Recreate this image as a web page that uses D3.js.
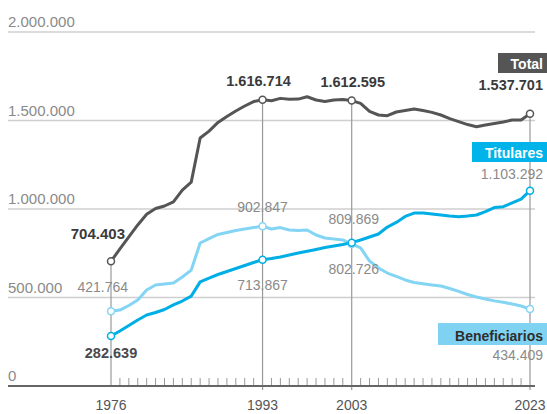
<!DOCTYPE html>
<html>
<head>
<meta charset="utf-8">
<script src="https://cdn.jsdelivr.net/npm/d3@7"></script>
<style>
  html, body { margin: 0; padding: 0; background: #fff; }
  svg { display: block; }
  text { font-family: "Liberation Sans", Arial, sans-serif; }
</style>
</head>
<body>
<svg id="chart" width="547" height="414"></svg>
<script>
const years = [1976,1977,1978,1979,1980,1981,1982,1983,1984,1985,1986,1987,1988,1989,1990,1991,1992,1993,
  1994,1995,1996,1997,1998,1999,2000,2001,2002,2003,2004,2005,2006,2007,2008,2009,2010,2011,2012,2013,
  2014,2015,2016,2017,2018,2019,2020,2021,2022,2023];

const total = [704403,775000,842000,910000,970000,1003000,1017000,1040000,1107000,1152000,1401000,1440000,
  1489000,1523000,1554000,1582000,1607000,1616714,
  1612000,1625000,1620000,1621000,1634000,1616000,1607000,1616000,1619000,1612595,
  1597000,1551000,1531000,1527000,1548000,1556000,1565000,1556000,1546000,1531000,
  1511000,1494000,1477000,1465000,1475000,1483000,1492000,1503000,1503000,1537701];

const titulares = [282639,311000,342000,373000,401000,415000,432000,458000,480000,508000,588000,610000,
  630000,647000,664000,681000,698000,713867,
  720000,729000,740000,751000,761000,771000,782000,791000,799000,809869,
  825000,842000,859000,898000,924000,958000,977000,977000,972000,966000,
  960000,956000,960000,966000,985000,1008000,1013000,1034000,1056000,1103292];

const beneficiarios = [421764,429000,455000,486000,542000,571000,576000,582000,616000,655000,808000,833000,
  856000,867000,879000,887000,895000,902847,
  887000,895000,881000,879000,881000,853000,836000,831000,825000,802726,
  780000,706000,667000,638000,619000,599000,585000,578000,571000,565000,
  551000,535000,517000,503000,492000,481000,473000,463000,452000,434409];

const yTicks = [0, 500000, 1000000, 1500000, 2000000];
const xLabels = [1976, 1993, 2003, 2023];
const markYears = [1976, 1993, 2003, 2023];

const fmt = v => d3.format(",")(v).replace(/,/g, ".");

const svg = d3.select("#chart");
const x = d3.scaleLinear().domain([1976, 2023]).range([111, 530]);
const y = d3.scaleLinear().domain([0, 2000000]).range([386, 32]);
const gridLeft = 8, gridRight = 535;

const colTotal = "#555555", colTit = "#00aee6", colBen = "#84d4f4";

// horizontal gridlines
svg.append("g").selectAll("line").data(yTicks.filter(d => d > 0)).join("line")
  .attr("x1", gridLeft).attr("x2", gridRight)
  .attr("y1", d => y(d)).attr("y2", d => y(d))
  .attr("stroke", "#cfcfcf").attr("stroke-width", 1.5);

// y tick labels
svg.append("g").selectAll("text").data(yTicks).join("text")
  .attr("x", gridLeft).attr("y", d => y(d) - 5)
  .attr("font-size", 15).attr("fill", "#8a8a8a")
  .text(d => fmt(d));

// year ticks
const tickYears = years.filter(yr => !markYears.includes(yr));
svg.append("g").selectAll("line").data(tickYears).join("line")
  .attr("x1", d => x(d)).attr("x2", d => x(d))
  .attr("y1", y(0) - 8).attr("y2", y(0))
  .attr("stroke", "#999").attr("stroke-width", 1);

// vertical marker lines
const idx = yr => years.indexOf(yr);
svg.append("g").selectAll("line").data(markYears).join("line")
  .attr("x1", d => x(d)).attr("x2", d => x(d))
  .attr("y1", d => y(total[idx(d)])).attr("y2", d => d === 1976 ? y(0) : y(0) + 4)
  .attr("stroke", "#999").attr("stroke-width", 1.2);

// x axis baseline
svg.append("line").attr("x1", gridLeft).attr("x2", gridRight)
  .attr("y1", y(0)).attr("y2", y(0)).attr("stroke", "#666").attr("stroke-width", 2);

// x labels
svg.append("g").selectAll("text").data(xLabels).join("text")
  .attr("x", d => x(d)).attr("y", 410).attr("text-anchor", "middle")
  .attr("font-size", 14).attr("fill", "#555").text(d => d);

// lines
const line = d3.line().x((d, i) => x(years[i])).y(d => y(d)).curve(d3.curveLinear);
const series = [
  {name: "Beneficiarios", values: beneficiarios, color: colBen},
  {name: "Titulares", values: titulares, color: colTit},
  {name: "Total", values: total, color: colTotal}
];
svg.append("g").selectAll("path").data(series).join("path")
  .attr("d", d => line(d.values)).attr("fill", "none")
  .attr("stroke", d => d.color).attr("stroke-width", 3)
  .attr("stroke-linejoin", "round").attr("stroke-linecap", "round");

// markers
series.forEach(s => {
  svg.append("g").selectAll("circle").data(markYears).join("circle")
    .attr("cx", d => x(d)).attr("cy", d => y(s.values[idx(d)])).attr("r", 3.5)
    .attr("fill", "#fff").attr("stroke", s.color).attr("stroke-width", 1.5);
});

// value labels
function label(xp, yp, txt, opts) {
  svg.append("text").attr("x", xp).attr("y", yp)
    .attr("text-anchor", opts.anchor || "middle")
    .attr("font-size", opts.size || 14)
    .attr("font-weight", opts.bold ? "bold" : "normal")
    .attr("fill", opts.color || "#8a8a8a")
    .text(txt);
}
const dark = "#3a3a3a";
// Total
label(x(1976) + 14, y(total[idx(1976)]) - 22, fmt(total[idx(1976)]), {anchor: "end", bold: true, color: dark, size: 15});
label(x(1993) - 4, y(total[idx(1993)]) - 14, fmt(total[idx(1993)]), {bold: true, color: dark, size: 14.5});
label(x(2003) + 1, y(total[idx(2003)]) - 14, fmt(total[idx(2003)]), {bold: true, color: dark, size: 14.5});
label(543, y(total[idx(2023)]) - 24, fmt(total[idx(2023)]), {anchor: "end", bold: true, color: dark, size: 14.5});
// Beneficiarios
label(x(1976) + 17, y(beneficiarios[idx(1976)]) - 19, fmt(beneficiarios[idx(1976)]), {anchor: "end", size: 14});
label(x(1993), y(beneficiarios[idx(1993)]) - 14, fmt(beneficiarios[idx(1993)]), {size: 14});
label(x(2003) + 2, y(beneficiarios[idx(2003)]) + 30, fmt(beneficiarios[idx(2003)]), {size: 14});
label(543, y(beneficiarios[idx(2023)]) + 51, fmt(beneficiarios[idx(2023)]), {anchor: "end", size: 14});
// Titulares
label(x(1976), y(titulares[idx(1976)]) + 22, fmt(titulares[idx(1976)]), {bold: true, color: "#4a4a4a", size: 14.5});
label(x(1993), y(titulares[idx(1993)]) + 30, fmt(titulares[idx(1993)]), {size: 14});
label(x(2003) + 2, y(titulares[idx(2003)]) - 19, fmt(titulares[idx(2003)]), {size: 14});
label(543, y(titulares[idx(2023)]) - 12, fmt(titulares[idx(2023)]), {anchor: "end", size: 14});

// series name boxes
function nameBox(txt, xRight, yTop, w, h, fill, tcolor) {
  svg.append("rect").attr("x", xRight - w).attr("y", yTop).attr("width", w).attr("height", h).attr("fill", fill);
  svg.append("text").attr("x", xRight - 4).attr("y", yTop + h - 4).attr("text-anchor", "end")
    .attr("font-size", 14).attr("font-weight", "bold").attr("fill", tcolor).text(txt);
}
nameBox("Total", 547, 53, 49, 20, "#555555", "#ffffff");
nameBox("Titulares", 547, 142, 75, 20, "#00b4ea", "#ffffff");
nameBox("Beneficiarios", 547, 323, 109, 22, "#7fd2f2", "#2e2e2e");
</script>
</body>
</html>
